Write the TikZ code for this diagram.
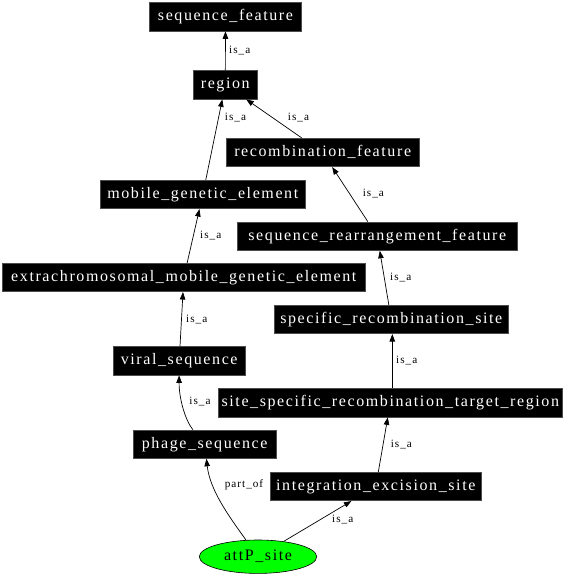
\documentclass[tikz,border=0pt]{standalone}
\usepackage{fontspec}
\setmainfont{Liberation Serif}
\newfontfamily\boxfont[LetterSpace=10]{Liberation Serif}
\newfontfamily\lblfont[LetterSpace=9]{Liberation Serif}
\usetikzlibrary{arrows.meta,shapes.geometric}
\definecolor{nodegreen}{HTML}{00FF00}
\tikzset{
  term/.style={rectangle, fill=black, draw=black!70, line width=0.8pt, text=white,
    inner sep=0pt, minimum height=28.3pt, font=\boxfont\fontsize{16pt}{18pt}\selectfont,
    text height=11pt, text depth=3.2pt},
  focus/.style={ellipse, fill=nodegreen, draw=black, line width=0.6pt, text=black,
    inner sep=0pt, minimum width=117.4pt, minimum height=33.4pt,
    font=\boxfont\fontsize{16pt}{18pt}\selectfont, text height=11pt, text depth=3.2pt},
  rel/.style={draw=black, line width=0.7pt, -{Triangle[length=7.5pt,width=5.5pt]}},
  lbl/.style={inner sep=0pt, font=\lblfont\fontsize{11.2pt}{13pt}\selectfont,
    text height=7.5pt, text depth=2pt}
}
\begin{document}
\begin{tikzpicture}[x=1pt,y=-1pt]
\useasboundingbox (0,0) rectangle (571,576);
% nodes
\node[term, minimum width=152.4pt] (sf)  at (225.5,16.8)  {sequence\_feature};
\node[term, minimum width=64pt]    (reg) at (225.3,84.8)  {region};
\node[term, minimum width=193.3pt] (rcf) at (322.7,152.5) {recombination\_feature};
\node[term, minimum width=205.7pt] (mge) at (202.8,194.5) {mobile\_genetic\_element};
\node[term, minimum width=280pt]   (srf) at (377.3,236.2) {sequence\_rearrangement\_feature};
\node[term, minimum width=362.3pt] (emg) at (183.8,277.5) {extrachromosomal\_mobile\_genetic\_element};
\node[term, minimum width=234pt]   (srs) at (391.3,319.5) {specific\_recombination\_site};
\node[term, minimum width=131.7pt] (vir) at (179.2,360.8) {viral\_sequence};
\node[term, minimum width=344pt]   (sst) at (390.3,402.8) {site\_specific\_recombination\_target\_region};
\node[term, minimum width=142.7pt] (pha) at (204.7,444.2) {phage\_sequence};
\node[term, minimum width=210.3pt] (ies) at (375.8,486.5) {integration\_excision\_site};
\node[focus] (att) at (258,556.7) {attP\_site};
% edges
\draw[rel] (reg) -- (sf);
\draw[rel] (mge) -- (reg);
\draw[rel] (rcf) -- (reg);
\draw[rel] (emg) -- (mge);
\draw[rel] (srf) -- (rcf);
\draw[rel] (vir) -- (emg);
\draw[rel] (srs) -- (srf);
\draw[rel] (pha) .. controls (185,420) and (179,398) .. (vir);
\draw[rel] ([xshift=2pt]sst.north) -- ([xshift=1pt]srs.south);
\draw[rel] (ies) -- (sst);
\draw[rel] (att) .. controls (228,515) and (210,490) .. (pha);
\draw[rel] (att) -- (ies);
% edge labels
\node[lbl] (l1)  at (239.7,50.5)  {is\_a};
\node[lbl] (l2)  at (235.5,118)   {is\_a};
\node[lbl] (l3)  at (298.5,118)   {is\_a};
\node[lbl] (l4)  at (210.7,235.7) {is\_a};
\node[lbl] (l5)  at (373.3,193.3) {is\_a};
\node[lbl] (l6)  at (196.7,319.3) {is\_a};
\node[lbl] (l7)  at (400.7,277.3) {is\_a};
\node[lbl] (l8)  at (200,402)     {is\_a};
\node[lbl] (l9)  at (406.7,360.7) {is\_a};
\node[lbl] (l10) at (401.3,444.3) {is\_a};
\node[lbl] (l11) at (244,485)     {part\_of};
\node[lbl] (l12) at (342.7,520)   {is\_a};
\end{tikzpicture}
\end{document}
